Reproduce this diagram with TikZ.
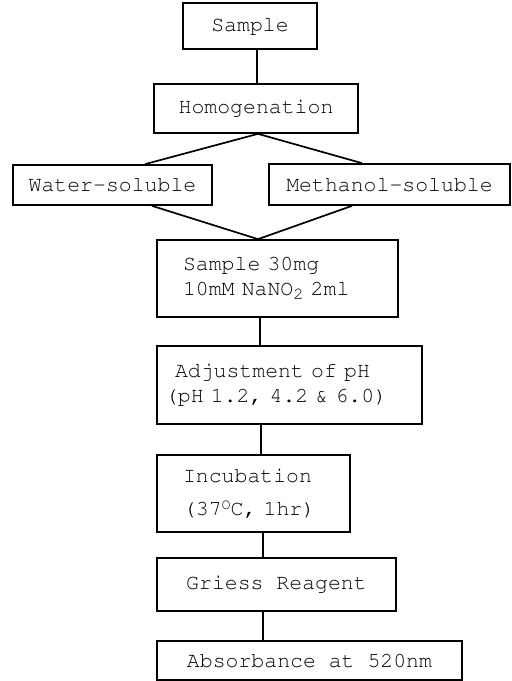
\documentclass[tikz,border=0pt]{standalone}
\usepackage[T1]{fontenc}
\usepackage{courier}

\tikzset{
    stepbox/.style={draw, line width=1.7pt, inner sep=0pt,
        font=\fontsize{21.5}{25}\selectfont\ttfamily},
    link/.style={line width=1.7pt}
}

\begin{document}
\begin{tikzpicture}[x=1pt, y=-1pt]
        \useasboundingbox (0,0) rectangle (512,681);

        \node[stepbox, minimum width=134pt, minimum height=46pt] (sample) at (250, 26) {Sample};
        \node[stepbox, minimum width=204pt, minimum height=49pt] (homog) at (256, 108.5) {Homogenation};
        \node[stepbox, minimum width=199pt, minimum height=40pt] (water) at (112.5, 185) {Water-soluble};
        \node[stepbox, minimum width=241pt, minimum height=41pt] (methanol) at (389.5, 184.5) {Methanol-soluble};
        \node[stepbox, minimum height=77pt, text width=189pt, inner xsep=26pt, align=left] (mix) at (277.5, 278.5)
            {Sample 30mg\\10mM NaNO\raisebox{-4pt}{\fontsize{17}{17}\selectfont 2} 2ml};
        \node[stepbox, minimum height=78pt, text width=249pt, inner xsep=8pt, align=left] (ph) at (289.5, 385)
            {\hspace*{10pt}Adjustment of pH\\(pH 1.2, 4.2 \& 6.0)};
        \node[stepbox, minimum height=77pt, text width=141pt, inner xsep=26pt, align=left] (incub) at (253.5, 493.5)
            {Incubation\\[8pt](37\raisebox{6pt}{\fontsize{15}{15}\selectfont O}C, 1hr)};
        \node[stepbox, minimum width=239pt, minimum height=53pt] (griess) at (276.5, 584.5) {Griess Reagent};
        \node[stepbox, minimum width=305pt, minimum height=39pt] (absorb) at (309.5, 660.5) {Absorbance at 520nm};

        \draw[link] ([xshift=7pt]sample.south) to ([xshift=1pt]homog.north)
            ([xshift=2pt]homog.south) to ([xshift=32.5pt]water.north)
            ([xshift=2pt]homog.south) to ([xshift=-27.5pt]methanol.north)
            ([xshift=39.5pt]water.south) to ([xshift=-19.5pt]mix.north)
            ([xshift=-37.5pt]methanol.south) to ([xshift=-19.5pt]mix.north)
            ([xshift=-17.5pt]mix.south) to ([xshift=-29.5pt]ph.north)
            ([xshift=-28.5pt]ph.south) to ([xshift=7.5pt]incub.north)
            ([xshift=9.5pt]incub.south) to ([xshift=-13.5pt]griess.north)
            ([xshift=-13.5pt]griess.south) to ([xshift=-46.5pt]absorb.north);
    \end{tikzpicture}
\end{document}
